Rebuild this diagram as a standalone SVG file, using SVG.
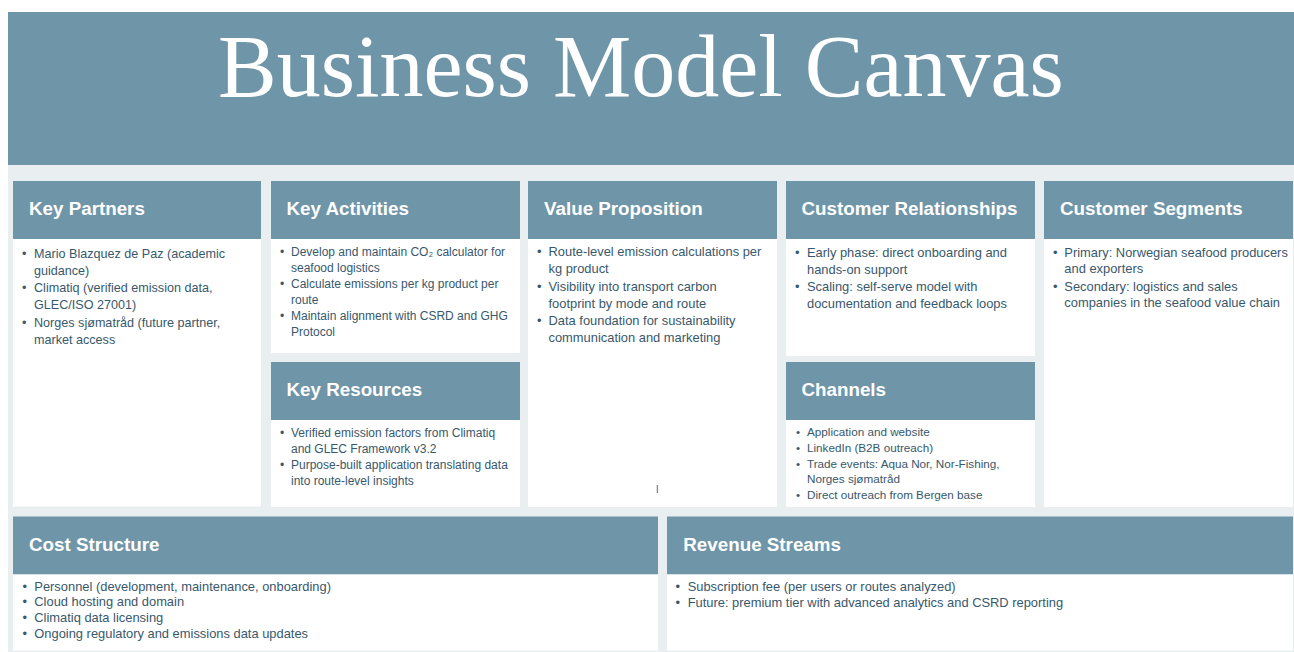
<svg xmlns="http://www.w3.org/2000/svg" width="1294" height="652" viewBox="0 0 1294 652">
  <style>
    .band { fill: #6f95a9; }
    .panel { fill: #e9eff1; }
    .head { fill: #6f95a9; }
    .body { fill: #ffffff; }
    .title { font-family: "Liberation Serif", "Times New Roman", serif; font-size: 88px; fill: #ffffff; }
    .hd { font-family: "Liberation Sans", Arial, sans-serif; font-weight: bold; font-size: 18.8px; fill: #ffffff; }
    .tx { font-family: "Liberation Sans", Arial, sans-serif; fill: #38586c; }
    .s12 { font-size: 12px; }
    .s125 { font-size: 12.6px; }
    .s117 { font-size: 11.7px; }
    .s129 { font-size: 12.9px; }
  </style>

  <!-- page background, title band and canvas panel -->
  <rect x="0" y="0" width="1294" height="652" fill="#ffffff"/>
  <rect class="band" x="8" y="12" width="1286" height="153"/>
  <rect class="panel" x="8" y="165" width="1286" height="487"/>
  <text class="title" x="641" y="96" text-anchor="middle">Business Model Canvas</text>

  <g id="key-partners">
    <rect class="head" x="13" y="181" width="248" height="58"/>
    <rect class="body" x="13" y="239" width="248" height="267.5"/>
    <text class="hd" x="29" y="214.5">Key Partners</text>
    <text class="tx s125">
      <tspan x="22" y="258">•</tspan><tspan x="34" y="258">Mario Blazquez de Paz (academic</tspan>
      <tspan x="34" y="275">guidance)</tspan>
      <tspan x="22" y="292">•</tspan><tspan x="34" y="292">Climatiq (verified emission data,</tspan>
      <tspan x="34" y="309">GLEC/ISO 27001)</tspan>
      <tspan x="22" y="326.5">•</tspan><tspan x="34" y="326.5">Norges sjømatråd (future partner,</tspan>
      <tspan x="34" y="343.5">market access</tspan>
    </text>
  </g>

  <g id="key-activities">
    <rect class="head" x="271" y="181" width="249" height="58"/>
    <rect class="body" x="271" y="239" width="249" height="114"/>
    <text class="hd" x="286.5" y="214.5">Key Activities</text>
    <text class="tx s12">
      <tspan x="280" y="256">•</tspan><tspan x="291" y="256">Develop and maintain CO₂ calculator for</tspan>
      <tspan x="291" y="272">seafood logistics</tspan>
      <tspan x="280" y="288">•</tspan><tspan x="291" y="288">Calculate emissions per kg product per</tspan>
      <tspan x="291" y="304">route</tspan>
      <tspan x="280" y="320">•</tspan><tspan x="291" y="320">Maintain alignment with CSRD and GHG</tspan>
      <tspan x="291" y="336">Protocol</tspan>
    </text>
  </g>

  <g id="key-resources">
    <rect class="head" x="271" y="362" width="249" height="58"/>
    <rect class="body" x="271" y="420" width="249" height="87"/>
    <text class="hd" x="286.5" y="395.5">Key Resources</text>
    <text class="tx s12">
      <tspan x="280" y="437">•</tspan><tspan x="291" y="437">Verified emission factors from Climatiq</tspan>
      <tspan x="291" y="453">and GLEC Framework v3.2</tspan>
      <tspan x="280" y="469">•</tspan><tspan x="291" y="469">Purpose-built application translating data</tspan>
      <tspan x="291" y="484.5">into route-level insights</tspan>
    </text>
  </g>

  <g id="value-proposition">
    <rect class="head" x="528" y="181" width="249" height="58"/>
    <rect class="body" x="528" y="239" width="249" height="268"/>
    <text class="hd" x="544" y="214.5">Value Proposition</text>
    <text class="tx s129">
      <tspan x="537" y="256.3">•</tspan><tspan x="548.5" y="256.3">Route-level emission calculations per</tspan>
      <tspan x="548.5" y="273.3">kg product</tspan>
      <tspan x="537" y="290.8">•</tspan><tspan x="548.5" y="290.8">Visibility into transport carbon</tspan>
      <tspan x="548.5" y="308">footprint by mode and route</tspan>
      <tspan x="537" y="325.3">•</tspan><tspan x="548.5" y="325.3">Data foundation for sustainability</tspan>
      <tspan x="548.5" y="342.4">communication and marketing</tspan>
    </text>
    <line x1="657.3" y1="485" x2="657.3" y2="493" stroke="#666666" stroke-width="1"/>
  </g>

  <g id="customer-relationships">
    <rect class="head" x="786" y="181" width="249" height="58"/>
    <rect class="body" x="786" y="239" width="249" height="117"/>
    <text class="hd" x="801.5" y="214.5">Customer Relationships</text>
    <text class="tx s129">
      <tspan x="795" y="256.5">•</tspan><tspan x="807" y="256.5">Early phase: direct onboarding and</tspan>
      <tspan x="807" y="273.5">hands-on support</tspan>
      <tspan x="795" y="291">•</tspan><tspan x="807" y="291">Scaling: self-serve model with</tspan>
      <tspan x="807" y="308.3">documentation and feedback loops</tspan>
    </text>
  </g>

  <g id="channels">
    <rect class="head" x="786" y="362" width="249" height="58"/>
    <rect class="body" x="786" y="420" width="249" height="87"/>
    <text class="hd" x="801.5" y="395.5">Channels</text>
    <text class="tx s117">
      <tspan x="796" y="436.3">•</tspan><tspan x="807" y="436.3">Application and website</tspan>
      <tspan x="796" y="452">•</tspan><tspan x="807" y="452">LinkedIn (B2B outreach)</tspan>
      <tspan x="796" y="467.7">•</tspan><tspan x="807" y="467.7">Trade events: Aqua Nor, Nor-Fishing,</tspan>
      <tspan x="807" y="483.3">Norges sjømatråd</tspan>
      <tspan x="796" y="499">•</tspan><tspan x="807" y="499">Direct outreach from Bergen base</tspan>
    </text>
  </g>

  <g id="customer-segments">
    <rect class="head" x="1044" y="181" width="249" height="58"/>
    <rect class="body" x="1044" y="239" width="249" height="268"/>
    <text class="hd" x="1060" y="214.5">Customer Segments</text>
    <text class="tx s129">
      <tspan x="1053" y="256.7">•</tspan><tspan x="1064.3" y="256.7">Primary: Norwegian seafood producers</tspan>
      <tspan x="1064.3" y="273.3">and exporters</tspan>
      <tspan x="1053" y="290.7">•</tspan><tspan x="1064.3" y="290.7">Secondary: logistics and sales</tspan>
      <tspan x="1064.3" y="307.3">companies in the seafood value chain</tspan>
    </text>
  </g>

  <g id="cost-structure">
    <rect class="head" x="13" y="516.5" width="645" height="58"/>
    <rect class="body" x="13" y="574.5" width="645" height="76"/>
    <text class="hd" x="29" y="550.5">Cost Structure</text>
    <text class="tx s129">
      <tspan x="22.5" y="590.7">•</tspan><tspan x="34.3" y="590.7">Personnel (development, maintenance, onboarding)</tspan>
      <tspan x="22.5" y="606.3">•</tspan><tspan x="34.3" y="606.3">Cloud hosting and domain</tspan>
      <tspan x="22.5" y="622">•</tspan><tspan x="34.3" y="622">Climatiq data licensing</tspan>
      <tspan x="22.5" y="637.7">•</tspan><tspan x="34.3" y="637.7">Ongoing regulatory and emissions data updates</tspan>
    </text>
  </g>

  <g id="revenue-streams">
    <rect class="head" x="667" y="516.5" width="626" height="58"/>
    <rect class="body" x="667" y="574.5" width="626" height="76"/>
    <text class="hd" x="683.3" y="550.5">Revenue Streams</text>
    <text class="tx s129">
      <tspan x="675.5" y="590.5">•</tspan><tspan x="687.7" y="590.5">Subscription fee (per users or routes analyzed)</tspan>
      <tspan x="675.5" y="606.7">•</tspan><tspan x="687.7" y="606.7">Future: premium tier with advanced analytics and CSRD reporting</tspan>
    </text>
  </g>
</svg>
